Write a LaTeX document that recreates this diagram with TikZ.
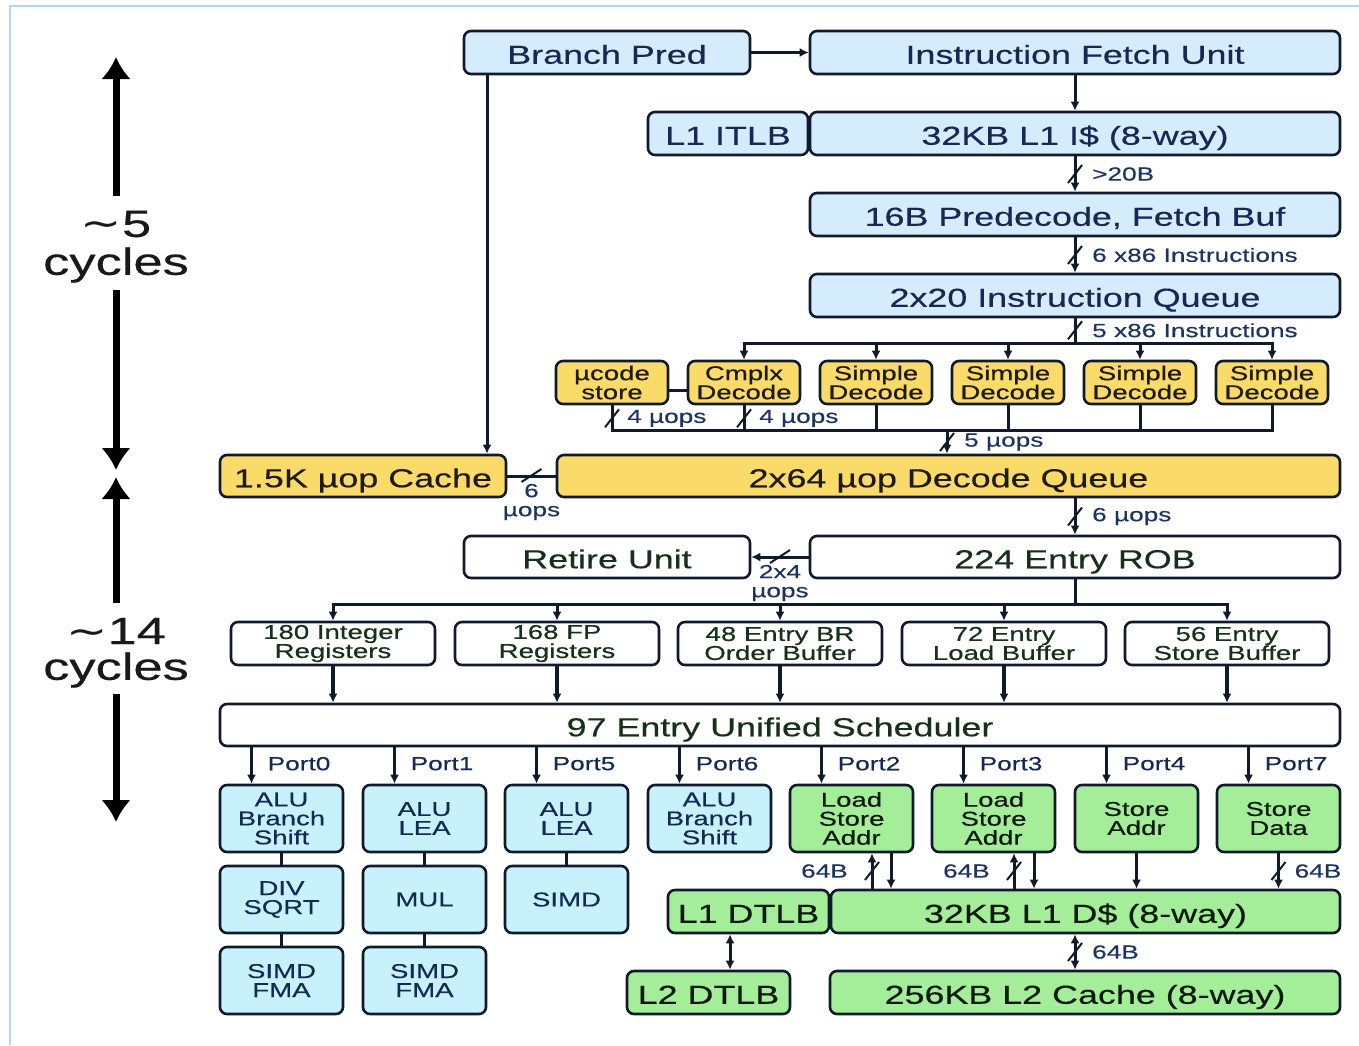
\documentclass[tikz,border=0pt]{standalone}
\usepackage{fontspec}
\setmainfont{Liberation Sans}[FakeStretch=1.38,FakeBold=0.4]
\newfontfamily\symf{DejaVu Sans}[FakeStretch=1.3]
\usetikzlibrary{arrows.meta,calc}
\definecolor{bfill}{HTML}{D4ECFB}
\definecolor{cfill}{HTML}{C8F2FB}
\definecolor{yfill}{HTML}{FADB6A}
\definecolor{gfill}{HTML}{A5EE99}
\definecolor{edge}{HTML}{101A2C}
\definecolor{navy}{HTML}{1C3462}
\definecolor{tblue}{HTML}{142A55}
\definecolor{tgreen}{HTML}{16301A}
\definecolor{tyel}{HTML}{1E1A08}
\definecolor{tgrn}{HTML}{0C1A0C}
\definecolor{framec}{HTML}{B5D3F2}
\tikzset{
 box/.style={draw=edge,line width=2.6pt,rounded corners=7pt,inner sep=0pt,align=center},
 bigt/.style={font=\fontsize{26}{28}\selectfont,text height=22.5pt,text depth=0pt},
 midt/.style={font=\fontsize{20}{19}\selectfont},
 blu/.style={box,fill=bfill,text=tblue,bigt,minimum height=43},
 exe/.style={box,fill=cfill,text=tblue,midt,minimum width=123,minimum height=67},
 yel/.style={box,fill=yfill,text=tyel},
 wht/.style={box,fill=white,text=tgreen},
 regt/.style={wht,midt,minimum width=204,minimum height=43},
 grn/.style={box,fill=gfill,text=tgrn},
 ln/.style={draw=edge,line width=3pt},
 arr/.style={ln,-{Latex[length=9pt,width=9pt]}},
 darr/.style={ln,{Latex[length=9pt,width=9pt]}-{Latex[length=9pt,width=9pt]}},
 sl/.style={draw=edge,line width=2pt},
 ann/.style={text=navy,font=\fontsize{19}{19}\selectfont,inner sep=0pt,align=center},
 bigarr/.style={line width=7pt,draw=black,-{Latex[length=22pt,width=30pt]}},
 cyc/.style={font=\fontsize{38}{40}\selectfont,text=black!90,inner sep=0pt}
}
\begin{document}
\begin{tikzpicture}[x=1pt,y=-1pt]
\useasboundingbox (0,0) rectangle (1359,1045);
\draw[framec,line width=2pt] (10,1045) -- (10,6) -- (1359,6);

% left cycle arrows
\draw[bigarr] (116,196) -- (116,57);
\node[cyc] (c5a) at (116,224) {{\symf ∼}5};
\node[cyc] (c5b) at (116,265) {cycles};
\draw[bigarr] (116,290) -- (116,470);
\draw[bigarr] (116,603) -- (116,477);
\node[cyc] (c14a) at (116,631) {{\symf ∼}14};
\node[cyc] (c14b) at (116,670) {cycles};
\draw[bigarr] (116,694) -- (116,822);

% front end
\node[blu,minimum width=286] (bp) at (607,52.5) {Branch Pred};
\node[blu,minimum width=530] (ifu) at (1075,52.5) {Instruction Fetch Unit};
\node[blu,minimum width=160] (itlb) at (728,133.5) {L1 ITLB};
\node[blu,minimum width=530] (l1i) at (1075,133.5) {32KB L1 I\$ (8-way)};
\node[blu,minimum width=530] (pre) at (1075,214.5) {16B Predecode, Fetch Buf};
\node[blu,minimum width=530] (iq) at (1075,295.5) {2x20 Instruction Queue};

\node[yel,midt,minimum width=112,minimum height=43] (d1) at (612,382.5) {µcode\\store};
\node[yel,midt,minimum width=112,minimum height=43] (d2) at (744,382.5) {Cmplx\\Decode};
\node[yel,midt,minimum width=112,minimum height=43] (d3) at (876,382.5) {Simple\\Decode};
\node[yel,midt,minimum width=112,minimum height=43] (d4) at (1008,382.5) {Simple\\Decode};
\node[yel,midt,minimum width=112,minimum height=43] (d5) at (1140,382.5) {Simple\\Decode};
\node[yel,midt,minimum width=112,minimum height=43] (d6) at (1272,382.5) {Simple\\Decode};

\node[yel,bigt,minimum width=286,minimum height=42] (uc) at (363,476) {1.5K µop Cache};
\node[yel,bigt,minimum width=783,minimum height=42] (dq) at (948.5,476) {2x64 µop Decode Queue};

% back end
\node[wht,bigt,minimum width=286,minimum height=42] (ret) at (607,557) {Retire Unit};
\node[wht,bigt,minimum width=530,minimum height=42] (rob) at (1075,557) {224 Entry ROB};
\node[regt] (r1) at (333,643.5) {180 Integer\\Registers};
\node[regt] (r2) at (557,643.5) {168 FP\\Registers};
\node[regt] (r3) at (780,643.5) {48 Entry BR\\Order Buffer};
\node[regt] (r4) at (1004,643.5) {72 Entry\\Load Buffer};
\node[regt] (r5) at (1227,643.5) {56 Entry\\Store Buffer};
\node[wht,bigt,minimum width=1120,minimum height=42] (sch) at (780,725) {97 Entry Unified Scheduler};

\node[exe] (e1) at (281.5,818.5) {ALU\\Branch\\Shift};
\node[exe] (e2) at (424.5,818.5) {ALU\\LEA};
\node[exe] (e3) at (566.5,818.5) {ALU\\LEA};
\node[exe] (e4) at (709.5,818.5) {ALU\\Branch\\Shift};
\node[exe,fill=gfill,text=tgrn] (e5) at (851.5,818.5) {Load\\Store\\Addr};
\node[exe,fill=gfill,text=tgrn] (e6) at (993.5,818.5) {Load\\Store\\Addr};
\node[exe,fill=gfill,text=tgrn] (e7) at (1136.5,818.5) {Store\\Addr};
\node[exe,fill=gfill,text=tgrn] (e8) at (1278.5,818.5) {Store\\Data};
\node[exe] (f1) at (281.5,899.5) {DIV\\SQRT};
\node[exe] (f2) at (424.5,899.5) {MUL};
\node[exe] (f3) at (566.5,899.5) {SIMD};
\node[exe] (g1) at (281.5,980.5) {SIMD\\FMA};
\node[exe] (g2) at (424.5,980.5) {SIMD\\FMA};

\node[grn,bigt,minimum width=161,minimum height=43] (l1dtlb) at (748.5,911.5) {L1 DTLB};
\node[grn,bigt,minimum width=509,minimum height=43] (l1d) at (1085.5,911.5) {32KB L1 D\$ (8-way)};
\node[grn,bigt,minimum width=163,minimum height=43] (l2dtlb) at (708.5,992.5) {L2 DTLB};
\node[grn,bigt,minimum width=510,minimum height=43] (l2) at (1085,992.5) {256KB L2 Cache (8-way)};

% connectors front end
\coordinate (bpx) at (487,0);
\draw[arr] (bp.east) -- (ifu.west);
\draw[arr] (bp.south -| bpx) -- (uc.north -| bpx);
\draw[arr] (ifu.south) -- (l1i.north);
\draw[arr] (l1i.south) -- (pre.north);
\draw[sl] ($(l1i.south)!.5!(pre.north)$) +(-7,9) -- +(7,-9);
\node[ann,anchor=west] at ($(l1i.south)!.5!(pre.north)+(17,0)$) {>20B};
\draw[arr] (pre.south) -- (iq.north);
\draw[sl] ($(pre.south)!.5!(iq.north)$) +(-7,9) -- +(7,-9);
\node[ann,anchor=west] at ($(pre.south)!.5!(iq.north)+(17,0)$) {6 x86 Instructions};

\coordinate (ibus) at (0,343);
\draw[ln] (iq.south) -- (iq.south |- ibus);
\draw[ln,line cap=rect] (d2.north |- ibus) -- (d6.north |- ibus);
\foreach \d in {d2,d3,d4,d5,d6} \draw[arr] (\d.north |- ibus) -- (\d.north);
\draw[sl] ($(iq.south)+(0,12)$) +(-7,9) -- +(7,-9);
\node[ann,anchor=west] at ($(iq.south)+(17,12)$) {5 x86 Instructions};

\coordinate (lk) at (0,390);
\draw[ln] (d1.east |- lk) -- (d2.west |- lk);

\coordinate (obus) at (0,430);
\foreach \d in {d1,d2,d3,d4,d5,d6} \draw[ln] (\d.south) -- (\d.south |- obus);
\draw[ln,line cap=rect] (d1.south |- obus) -- (d6.south |- obus);
\draw[sl] ($(d1.south)+(0,13)$) +(-7,9) -- +(7,-9);
\node[ann,anchor=west] at ($(d1.south)+(15,13)$) {4 µops};
\draw[sl] ($(d2.south)+(0,13)$) +(-7,9) -- +(7,-9);
\node[ann,anchor=west] at ($(d2.south)+(15,13)$) {4 µops};
\coordinate (qx) at (947,0);
\draw[arr] (qx |- obus) -- (dq.north -| qx);
\draw[sl] ($(qx |- obus)+(0,12)$) +(-7,9) -- +(7,-9);
\node[ann,anchor=west] at ($(qx |- obus)+(17,12)$) {5 µops};

\draw[ln] (uc.east) -- (dq.west);
\draw[sl] ($(uc.east)!.5!(dq.west)$) +(-10,6) -- +(10,-7);
\node[ann] at ($(uc.east)!.5!(dq.west)+(0,26)$) {6\\µops};

\draw[arr] (dq.south -| rob.north) -- (rob.north);
\draw[sl] ($(dq.south -| rob.north)!.5!(rob.north)$) +(-7,9) -- +(7,-9);
\node[ann,anchor=west] at ($(dq.south -| rob.north)!.5!(rob.north)+(17,0)$) {6 µops};

\draw[arr] (rob.west) -- (ret.east);
\draw[sl] ($(rob.west)!.5!(ret.east)$) +(-10,6) -- +(10,-7);
\node[ann] at ($(rob.west)!.5!(ret.east)+(0,26)$) {2x4\\µops};

\coordinate (rbus) at (0,604);
\draw[ln] (rob.south) -- (rob.south |- rbus);
\draw[ln,line cap=rect] (r1.north |- rbus) -- (r5.north |- rbus);
\foreach \r in {r1,r2,r3,r4,r5} {
  \draw[arr] (\r.north |- rbus) -- (\r.north);
  \draw[arr,line width=3.6pt] (\r.south) -- (sch.north -| \r.south);
}

\foreach \e/\p in {e1/Port0,e2/Port1,e3/Port5,e4/Port6,e5/Port2,e6/Port3,e7/Port4,e8/Port7} {
  \coordinate (p\e) at ($(\e.north)+(-30,0)$);
  \draw[arr] (sch.south -| p\e) -- (p\e);
  \node[ann,text=tblue,anchor=west] at ($(p\e)+(16,-20)$) {\p};
}
\draw[ln] (e1.south) -- (f1.north);
\draw[ln] (f1.south) -- (g1.north);
\draw[ln] (e2.south) -- (f2.north);
\draw[ln] (f2.south) -- (g2.north);
\draw[ln] (e3.south) -- (f3.north);

% memory
\coordinate (u2) at ($(e5.south)+(20.5,0)$);
\coordinate (v2) at ($(e5.south)+(39.5,0)$);
\coordinate (u3) at ($(e6.south)+(20.5,0)$);
\coordinate (v3) at ($(e6.south)+(40.5,0)$);
\draw[arr] (u2 |- l1d.north) -- (u2);
\draw[arr] (v2) -- (v2 |- l1d.north);
\draw[sl] ($(u2)!.5!(u2 |- l1d.north)$) +(-7,9) -- +(7,-9);
\node[ann,anchor=east] at ($(u2)!.5!(u2 |- l1d.north)+(-24,0)$) {64B};
\draw[arr] (u3 |- l1d.north) -- (u3);
\draw[arr] (v3) -- (v3 |- l1d.north);
\draw[sl] ($(u3)!.5!(u3 |- l1d.north)$) +(-7,9) -- +(7,-9);
\node[ann,anchor=east] at ($(u3)!.5!(u3 |- l1d.north)+(-24,0)$) {64B};
\draw[arr] (e7.south) -- (e7.south |- l1d.north);
\draw[arr] (e8.south) -- (e8.south |- l1d.north);
\draw[sl] ($(e8.south)!.5!(e8.south |- l1d.north)$) +(-7,9) -- +(7,-9);
\node[ann,anchor=west] at ($(e8.south)!.5!(e8.south |- l1d.north)+(16,0)$) {64B};

\coordinate (tx) at (730,0);
\draw[darr] (l1dtlb.south -| tx) -- (l2dtlb.north -| tx);
\coordinate (cx) at (1075,0);
\draw[darr] (l1d.south -| cx) -- (l2.north -| cx);
\draw[sl] ($(l1d.south -| cx)!.5!(l2.north -| cx)$) +(-7,9) -- +(7,-9);
\node[ann,anchor=west] at ($(l1d.south -| cx)!.5!(l2.north -| cx)+(17,0)$) {64B};
\end{tikzpicture}
\end{document}
